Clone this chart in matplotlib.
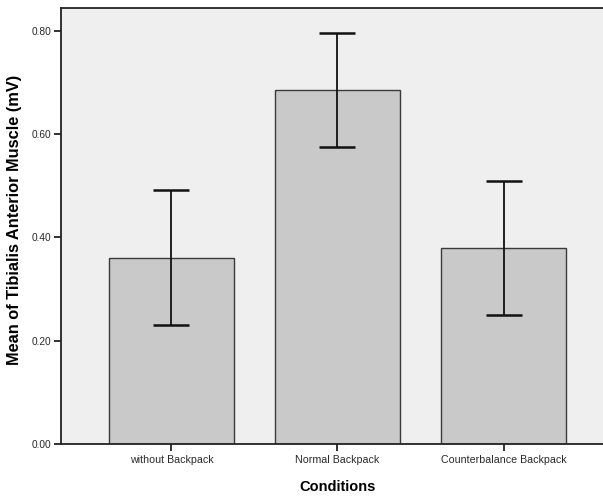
import matplotlib
matplotlib.use('Agg')
import matplotlib.pyplot as plt
import numpy as np

conditions = ['without Backpack', 'Normal Backpack', 'Counterbalance Backpack']
means = [0.360, 0.686, 0.379]
ci_low = [0.230, 0.576, 0.249]
ci_high = [0.492, 0.797, 0.509]
yticks = [0.0, 0.2, 0.4, 0.6, 0.8]

plt.rcParams['font.family'] = ['Liberation Sans', 'DejaVu Sans']

fig = plt.figure(figsize=(6.03, 4.97), dpi=100)
ax = fig.add_axes([0.1007, 0.1072, 0.918, 0.876])
ax.set_facecolor('#efefef')

x = np.arange(len(conditions))
m = np.array(means)
err = [m - np.array(ci_low), np.array(ci_high) - m]
ax.bar(x, means, width=0.753, color='#c9c9c9', edgecolor='#3a3a3a', linewidth=1.0, zorder=2)
ax.errorbar(x, means, yerr=err, fmt='none', ecolor='#111111', elinewidth=1.3,
            capsize=13.3, capthick=1.8, zorder=3)

ax.set_xlim(-0.667, 2.667)
ax.set_ylim(0, 0.844)
ax.set_xticks(x)
ax.set_xticklabels(conditions, fontsize=7.7, color='#2a2a2a')
ax.set_yticks(yticks)
ax.set_yticklabels(['%.2f' % v for v in yticks], fontsize=7.3, color='#2a2a2a')
ax.tick_params(axis='both', direction='out', length=5, width=1.3, color='#222222')
ax.tick_params(axis='x', pad=3)
ax.tick_params(axis='y', pad=1.5)

for s in ax.spines.values():
    s.set_color('#222222')
    s.set_linewidth(1.3)

ax.set_xlabel('Conditions', fontsize=10.5, fontweight='bold', labelpad=11)
ax.set_ylabel('Mean of Tibialis Anterior Muscle (mV)', fontsize=11.8, fontweight='bold')
ax.yaxis.set_label_coords(-0.070, 0.514)

fig.savefig('out.png', dpi=100)
